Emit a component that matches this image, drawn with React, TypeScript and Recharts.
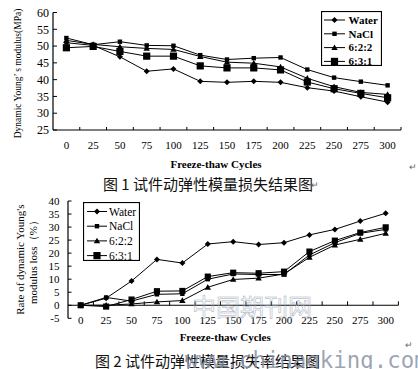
import React from 'react';
import { LineChart, Line, XAxis, YAxis, ReferenceLine, Legend, Label } from 'recharts';

const cycles = [0, 25, 50, 75, 100, 125, 150, 175, 200, 225, 250, 275, 300];
const seriesNames = ['Water', 'NaCl', '6:2:2', '6:3:1'];

const modulusWater = [51.0, 50.2, 46.8, 42.5, 43.2, 39.5, 39.2, 39.5, 39.2, 37.6, 36.6, 34.9, 33.3];
const modulusNaCl = [52.4, 50.4, 51.3, 50.2, 50.1, 47.3, 46.0, 46.4, 46.6, 43.0, 40.6, 39.4, 38.3];
const modulus622 = [51.7, 50.5, 49.8, 49.3, 49.0, 46.9, 45.2, 44.9, 43.8, 40.4, 37.9, 36.2, 35.6];
const modulus631 = [49.5, 49.9, 48.4, 47.0, 47.0, 44.1, 43.5, 43.5, 42.9, 39.3, 37.3, 35.9, 34.6];

const lossWater = [0, 2.7, 9.3, 17.6, 16.2, 23.5, 24.4, 23.3, 24.0, 27.0, 29.1, 32.3, 35.3];
const lossNaCl = [0, 3.0, 1.6, 4.2, 4.4, 10.0, 12.0, 11.8, 11.8, 19.3, 24.0, 27.6, 29.1];
const loss622 = [0, 0, 0.5, 1.3, 1.8, 6.9, 9.9, 10.4, 12.0, 18.4, 23.1, 25.3, 27.6];
const loss631 = [0, -0.5, 2.2, 5.4, 5.5, 11.0, 12.5, 12.3, 12.9, 20.6, 24.8, 27.9, 29.9];

const modulusTicks = [25, 30, 35, 40, 45, 50, 55, 60];
const lossTicks = [-5, 0, 5, 10, 15, 20, 25, 30, 35, 40];

const halfStep = 12.5;
const xDomain = [cycles[0] - halfStep, cycles[cycles.length - 1] + halfStep];
const bandEdges = cycles.map((c) => c + halfStep);

const modulusData = cycles.map((c, i) => ({
  cycle: c, water: modulusWater[i], nacl: modulusNaCl[i], r622: modulus622[i], r631: modulus631[i],
}));
const lossData = cycles.map((c, i) => ({
  cycle: c, water: lossWater[i], nacl: lossNaCl[i], r622: loss622[i], r631: loss631[i],
}));

const keys = ['water', 'nacl', 'r622', 'r631'];
const shapes = ['diamond', 'square', 'triangle', 'bigSquare'];

const SERIF = '"Liberation Serif", "Times New Roman", serif';
const CJK = '"Noto Sans CJK SC", sans-serif';

function Marker({ shape, cx, cy, k = 1 }: { shape: string; cx: number; cy: number; k?: number }) {
  if (cx == null || cy == null) return null;
  if (shape === 'diamond') {
    const r = 3 * k;
    return <path d={`M${cx} ${cy - r}L${cx + r} ${cy}L${cx} ${cy + r}L${cx - r} ${cy}Z`} fill="#000" />;
  }
  if (shape === 'square') {
    const r = 2.2 * k;
    return <rect x={cx - r} y={cy - r} width={2 * r} height={2 * r} fill="#000" />;
  }
  if (shape === 'triangle') {
    const r = 3.2 * k;
    return <path d={`M${cx} ${cy - r}L${cx + r} ${cy + r * 0.75}L${cx - r} ${cy + r * 0.75}Z`} fill="#000" />;
  }
  const r = 3.6 * k;
  return <rect x={cx - r} y={cy - r} width={2 * r} height={2 * r} fill="#000" />;
}

const dotRenderer = (shape: string, key: string, k: number) => (p: any) => (
  <g key={`${key}-${p.index}`}>
    <Marker shape={shape} cx={p.cx} cy={p.cy} k={k} />
  </g>
);

const makeLegend = (cfg: { w: number; h: number; y0: number; dy: number; lx1: number; lx2: number; mx: number; tx: number; fs: number; fw: string | number; k: number }) => () => (
  <svg width={cfg.w} height={cfg.h} style={{ display: 'block' }}>
    <rect x={0.5} y={0.5} width={cfg.w - 1} height={cfg.h - 1} fill="#fff" stroke="#000" strokeWidth={1.2} />
    {seriesNames.map((name, i) => {
      const y = cfg.y0 + i * cfg.dy;
      return (
        <g key={name}>
          <line x1={cfg.lx1} x2={cfg.lx2} y1={y} y2={y} stroke="#000" strokeWidth={1} />
          <Marker shape={shapes[i]} cx={cfg.mx} cy={y} k={cfg.k} />
          <text x={cfg.tx} y={y} dy="0.35em" fontSize={cfg.fs} fontWeight={cfg.fw} fontFamily={SERIF} fill="#000">{name}</text>
        </g>
      );
    })}
  </svg>
);

const legend1 = makeLegend({ w: 61, h: 55, y0: 9, dy: 13.8, lx1: 3, lx2: 24, mx: 13.5, tx: 27.5, fs: 11, fw: 'bold', k: 1 });
const legend2 = makeLegend({ w: 57, h: 59, y0: 9.5, dy: 14.7, lx1: 4, lx2: 24, mx: 14, tx: 26, fs: 11.5, fw: 'normal', k: 1 });

export default function App() {
  return (
    <div style={{ position: 'fixed', left: 0, top: 0, width: 418, height: 369, background: '#fff', overflow: 'hidden' }}>
      <div style={{ position: 'absolute', left: 0, top: 0 }}>
        <LineChart width={418} height={170} data={modulusData} margin={{ top: 12.5, right: 17, bottom: 0, left: 0 }}>
          <XAxis
            dataKey="cycle" type="number" domain={xDomain} ticks={cycles} allowDataOverflow
            height={40} tickLine={false} tickSize={0} tickMargin={11}
            axisLine={{ stroke: '#000', strokeWidth: 1.2 }}
            tick={{ fontSize: 11, fill: '#000', fontFamily: SERIF }}
            interval={0}
          >
            <Label value="Freeze-thaw Cycles" position="insideBottom" offset={2} dx={-11}
              style={{ fontSize: 11, fontWeight: 'bold', fontFamily: SERIF, fill: '#000' }} />
          </XAxis>
          <YAxis
            type="number" domain={[25, 60]} ticks={modulusTicks} width={53} interval={0}
            tickSize={-4} tickMargin={8}
            axisLine={{ stroke: '#000', strokeWidth: 1.2 }} tickLine={{ stroke: '#000' }}
            tick={{ fontSize: 12, fill: '#000', fontFamily: SERIF }}
          >
            <Label content={(p: any) => {
              const vb = p.viewBox || {};
              const cx = vb.x + 18;
              const cy = 73.5;
              return (
                <text x={cx} y={cy} transform={`rotate(-90 ${cx} ${cy})`} textAnchor="middle" dy="0.35em"
                  fontSize={9.5} fontFamily={SERIF} fill="#000">Dynamic Young’ s modulus(MPa)</text>
              );
            }} />
          </YAxis>
          {bandEdges.map((b) => (
            <ReferenceLine key={`t1-${b}`} segment={[{ x: b, y: 25 }, { x: b, y: 25.9 }]} stroke="#000" strokeWidth={1} />
          ))}
          <Legend layout="vertical" align="center" verticalAlign="middle" content={legend1}
            wrapperStyle={{ left: 320.5, top: 11, width: 61, height: 55 }} />
          {keys.map((k, i) => (
            <Line key={k} dataKey={k} name={seriesNames[i]} stroke="#000" strokeWidth={1} type="linear"
              isAnimationActive={false} dot={dotRenderer(shapes[i], k, 1)} activeDot={false} />
          ))}
        </LineChart>
      </div>

      <div style={{ position: 'absolute', left: 0, top: 190 }}>
        <LineChart width={418} height={160} data={lossData} margin={{ top: 11, right: 19.6, bottom: 10, left: 0 }}>
          <XAxis
            dataKey="cycle" type="number" domain={xDomain} ticks={cycles} allowDataOverflow
            height={21.7} tickLine={false} tickSize={0} tickMargin={-2} axisLine={false}
            tick={{ fontSize: 11, fill: '#000', fontFamily: SERIF }}
            interval={0}
          >
            <Label value="Freeze-thaw Cycles" position="insideBottom" offset={-1} dx={-8}
              style={{ fontSize: 11, fontWeight: 'bold', fontFamily: SERIF, fill: '#000' }} />
          </XAxis>
          <YAxis
            type="number" domain={[-5, 40]} ticks={lossTicks} width={68} interval={0}
            tickSize={-3.5} tickMargin={12}
            axisLine={{ stroke: '#000', strokeWidth: 1.2 }} tickLine={{ stroke: '#000' }}
            tick={{ fontSize: 11, fill: '#000', fontFamily: SERIF }}
          >
            <Label content={(p: any) => {
              const vb = p.viewBox || {};
              const cy = vb.y + vb.height / 2;
              const x1 = vb.x + 20;
              const x2 = vb.x + 33;
              return (
                <g>
                  <text x={x1} y={cy} transform={`rotate(-90 ${x1} ${cy})`} textAnchor="middle" dy="0.35em"
                    fontSize={11} fontFamily={SERIF} fill="#000">Rate of dynamic Young's</text>
                  <text x={x2} y={cy} transform={`rotate(-90 ${x2} ${cy})`} textAnchor="middle" dy="0.35em"
                    fontSize={11} fontFamily={SERIF} fill="#000">modulus loss（%）</text>
                </g>
              );
            }} />
          </YAxis>
          <ReferenceLine y={0} stroke="#000" strokeWidth={1.2} />
          {bandEdges.map((b) => (
            <ReferenceLine key={`t2-${b}`} segment={[{ x: b, y: 0 }, { x: b, y: 1.5 }]} stroke="#000" strokeWidth={1} />
          ))}
          <Legend layout="vertical" align="center" verticalAlign="middle" content={legend2}
            wrapperStyle={{ left: 82.5, top: 11.7, width: 57, height: 59 }} />
          {keys.map((k, i) => (
            <Line key={k} dataKey={k} name={seriesNames[i]} stroke="#000" strokeWidth={1} type="linear"
              isAnimationActive={false} dot={dotRenderer(shapes[i], k, i === 3 ? 0.85 : 1)} activeDot={false} />
          ))}
        </LineChart>
      </div>

      <svg width={418} height={369} style={{ position: 'absolute', left: 0, top: 0, pointerEvents: 'none' }}>
        <text x={103} y={190} fontSize={15} fontFamily={CJK} fill="#111">图 1 试件动弹性模量损失结果图</text>
        <text x={311} y={188} fontSize={9} fontFamily={CJK} fill="#666">↵</text>
        <text x={409} y={170} fontSize={9} fontFamily={CJK} fill="#666">↵</text>
        <text x={405} y={348} fontSize={9} fontFamily={CJK} fill="#666">↵</text>
        <text x={95} y={367} fontSize={15} fontFamily={CJK} fill="#111">图 2 试件动弹性模量损失率结果图</text>
        <text x={192} y={316} fontSize={24} fontFamily={CJK} fill="none" stroke="#a3acbb" strokeWidth={0.5}>中国期刊网</text>
        <text x={185} y={368} fontSize={22.4} fontFamily={'"DejaVu Sans Mono", monospace'} fill="#8a94a6" fillOpacity={0.85}>www.chinaqking.com</text>
      </svg>
    </div>
  );
}
